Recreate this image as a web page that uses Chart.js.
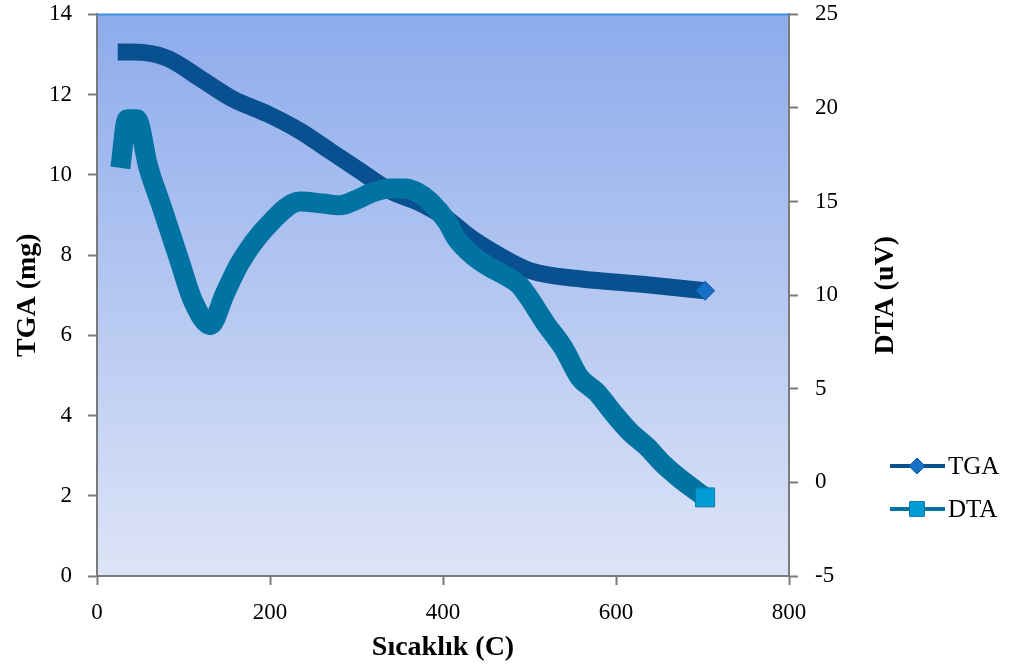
<!DOCTYPE html>
<html>
<head>
<meta charset="utf-8">
<script src="https://cdn.jsdelivr.net/npm/chart.js@4"></script>
<style>
  html, body { margin: 0; padding: 0; background: #fff; }
  #box { width: 1012px; height: 670px; }
</style>
</head>
<body>
<div id="box"><canvas id="tga-plot"></canvas></div>
<script>
// TGA curve (mass, left axis)
var tgaTemp = [24, 42, 81, 119, 157, 197, 235, 269, 304, 339, 373, 405, 431, 462, 501, 558, 636, 703];
var tgaMass = [13.06, 13.06, 12.91, 12.41, 11.89, 11.52, 11.09, 10.60, 10.10, 9.60, 9.30, 8.90, 8.45, 8.03, 7.61, 7.41, 7.26, 7.11];

// DTA curve (signal, right axis)
var dtaTemp = [27, 35, 46, 59, 75, 95, 111, 131, 148, 165, 197, 235, 261, 281, 300, 319, 339, 356, 370, 385,
    405, 416, 435, 454, 474, 489, 520, 539, 558, 578, 597, 616, 636, 654, 674, 703];
var dtaSignal = [16.8, 19.4, 19.4, 16.9, 14.7, 11.9, 9.7, 8.4, 10.1, 11.7, 13.7, 15.0, 14.9, 14.8, 15.1, 15.5, 15.7, 15.7, 15.5, 15.0,
    13.9, 13.0, 12.1, 11.5, 11.0, 10.5, 8.4, 7.2, 5.6, 4.8, 3.7, 2.7, 1.9, 1.0, 0.2, -0.8];

// axis ranges / tick steps
var xRange = [0, 800, 200];
var tgaRange = [0, 14, 2];
var dtaRange = [-5, 25, 5];

var serif = "'Liberation Serif', 'Times New Roman', serif";
var axisGrey = '#7a7a7a';
var titleFont = { family: serif, size: 28, weight: 'bold', lineHeight: 1.2 };
var tickFont = { family: serif, size: 23, lineHeight: 1 };

function toPoints(xs, ys) {
    return xs.map(function (x, i) { return { x: x, y: ys[i] }; });
}

function lastOnly(r) {
    return function (ctx) {
        return ctx.dataIndex === ctx.dataset.data.length - 1 ? r : 0;
    };
}

var plotBackground = {
    id: 'plotBackground',
    beforeDraw: function (chart) {
        var a = chart.chartArea, ctx = chart.ctx;
        var g = ctx.createLinearGradient(0, a.top, 0, a.bottom);
        g.addColorStop(0, '#8dabec');
        g.addColorStop(1, '#dde4f7');
        ctx.save();
        ctx.fillStyle = g;
        ctx.fillRect(a.left, a.top, a.right - a.left, a.bottom - a.top);
        ctx.restore();
    },
    afterDraw: function (chart) {
        var a = chart.chartArea, ctx = chart.ctx;
        ctx.save();
        ctx.strokeStyle = '#3d8de2';
        ctx.lineWidth = 2;
        ctx.beginPath();
        ctx.moveTo(a.left, a.top);
        ctx.lineTo(a.right, a.top);
        ctx.stroke();
        // right axis title reads bottom-to-top like the left one
        ctx.translate(886, (a.top + a.bottom) / 2);
        ctx.rotate(-Math.PI / 2);
        ctx.fillStyle = '#000';
        ctx.font = 'bold 28px ' + serif;
        ctx.textAlign = 'center';
        ctx.textBaseline = 'middle';
        ctx.fillText('DTA (uV)', 0, 0);
        ctx.restore();
    }
};

// legend on the right, drawn by hand so it sits low like the original
var legendItems = [
    { text: 'TGA', line: '#08508f', fill: '#1670c8', edge: '#0a57a0', style: 'rectRot', radius: 8, y: 466 },
    { text: 'DTA', line: '#0073a2', fill: '#009cd8', edge: '#0a78a8', style: 'rect', radius: 10.5, y: 509 }
];

var sideLegend = {
    id: 'sideLegend',
    afterDraw: function (chart) {
        var ctx = chart.ctx;
        legendItems.forEach(function (it) {
            ctx.save();
            ctx.strokeStyle = it.line;
            ctx.lineWidth = 4;
            ctx.beginPath();
            ctx.moveTo(890, it.y);
            ctx.lineTo(945, it.y);
            ctx.stroke();
            ctx.fillStyle = it.fill;
            ctx.strokeStyle = it.edge;
            ctx.lineWidth = 1;
            ctx.beginPath();
            if (it.style === 'rectRot') {
                ctx.moveTo(917 - it.radius, it.y);
                ctx.lineTo(917, it.y - it.radius);
                ctx.lineTo(917 + it.radius, it.y);
                ctx.lineTo(917, it.y + it.radius);
                ctx.closePath();
            } else {
                var h = it.radius * Math.SQRT1_2;
                ctx.rect(917 - h, it.y - h, 2 * h, 2 * h);
            }
            ctx.fill();
            ctx.stroke();
            ctx.fillStyle = '#000';
            ctx.font = '25px ' + serif;
            ctx.textBaseline = 'middle';
            ctx.textAlign = 'left';
            ctx.fillText(it.text, 948, it.y + 1);
            ctx.restore();
        });
    }
};

var data = {
    datasets: [{
        label: 'TGA',
        data: toPoints(tgaTemp, tgaMass),
        yAxisID: 'yTga',
        order: 2,
        borderColor: '#08508f',
        borderWidth: 17,
        cubicInterpolationMode: 'monotone',
        borderJoinStyle: 'round',
        pointStyle: 'rectRot',
        pointRadius: lastOnly(9.5),
        pointBackgroundColor: '#1670c8',
        pointBorderColor: '#0a57a0',
        pointBorderWidth: 1
    }, {
        label: 'DTA',
        data: toPoints(dtaTemp, dtaSignal),
        yAxisID: 'yDta',
        order: 1,
        borderColor: '#0073a2',
        borderWidth: 20,
        cubicInterpolationMode: 'monotone',
        borderJoinStyle: 'round',
        pointStyle: 'rect',
        pointRadius: lastOnly(13.4),
        pointBackgroundColor: '#009cd8',
        pointBorderColor: '#0a78a8',
        pointBorderWidth: 1
    }]
};

function tickGrid() {
    return { drawOnChartArea: false, drawTicks: true, tickLength: 9, tickWidth: 2, tickColor: axisGrey };
}

function fitVertical(w) {
    return function (s) {
        s.width = w;
        s.paddingTop = 0;
        s.paddingBottom = 0;
    };
}

var layout = {
    type: 'line',
    data: data,
    options: {
        responsive: true,
        maintainAspectRatio: false,
        animation: false,
        layout: { padding: { left: 11, right: 109, top: 12, bottom: 5 } },
        scales: {
            x: {
                type: 'linear',
                min: xRange[0],
                max: xRange[1],
                ticks: { stepSize: xRange[2], padding: 16, color: '#000', font: tickFont },
                grid: tickGrid(),
                border: { color: axisGrey, width: 2 },
                title: { display: true, text: 'Sıcaklık (C)', color: '#000', padding: 0, font: titleFont },
                afterFit: function (s) { s.height = 89; }
            },
            yTga: {
                type: 'linear',
                position: 'left',
                min: tgaRange[0],
                max: tgaRange[1],
                ticks: { stepSize: tgaRange[2], padding: 16, color: '#000', font: tickFont },
                grid: tickGrid(),
                border: { color: axisGrey, width: 2 },
                title: { display: true, text: 'TGA (mg)', color: '#000', padding: 0, font: titleFont },
                afterFit: fitVertical(86)
            },
            yDta: {
                type: 'linear',
                position: 'right',
                min: dtaRange[0],
                max: dtaRange[1],
                ticks: { stepSize: dtaRange[2], padding: 17, color: '#000', font: tickFont },
                grid: tickGrid(),
                border: { color: axisGrey, width: 2 },
                title: { display: false },
                afterFit: fitVertical(114)
            }
        },
        plugins: {
            legend: { display: false },
            tooltip: { enabled: false }
        }
    },
    plugins: [plotBackground, sideLegend]
};

const tgaPlot = document.getElementById('tga-plot');
new Chart(tgaPlot, layout);
</script>
</body>
</html>
